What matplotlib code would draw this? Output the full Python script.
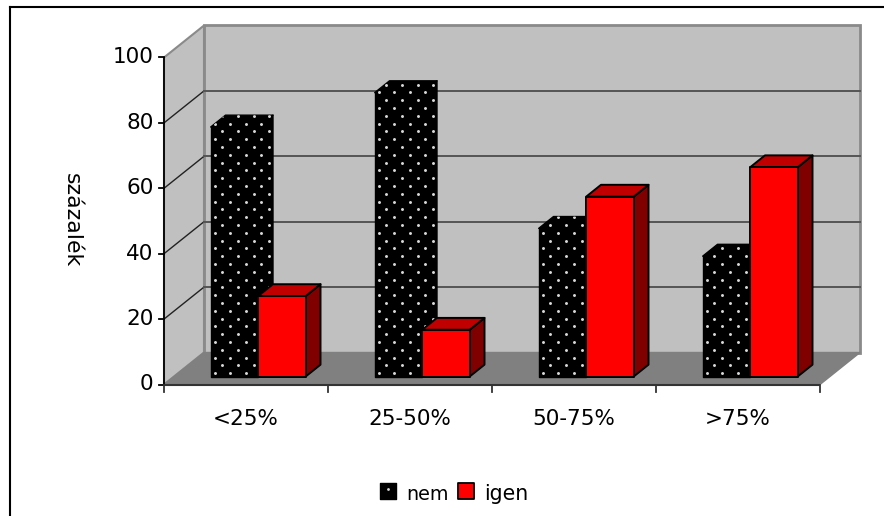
import matplotlib
matplotlib.use("Agg")
import matplotlib.pyplot as plt
from matplotlib.patches import Polygon

categories = ["<25%", "25-50%", "50-75%", ">75%"]
nem = [76.3, 86.8, 45.3, 36.8]
igen = [24.6, 14.3, 55.0, 64.0]
y_ticks = [0, 20, 40, 60, 80, 100]
y_label = "százalék"
legend_labels = ["nem", "igen"]

W, H = 884, 516
# pixel positions of the front plane of the chart box
X0, X1 = 164, 820
Y0, Y100 = 384.5, 57.5
px_per_cat = (X1 - X0) / len(categories)
px_per_val = (Y0 - Y100) / 100
# depth of the box in data units
DX = 40 / px_per_cat
DY = 32 / px_per_val
BAR_W = 47.5 / px_per_cat
BAR_GAP = 36.7 / px_per_cat
D0, D1 = 0.25, 0.62


def proj(x, y, d=0.0):
    return (x + DX * d, y + DY * d)


def fx(p):
    return (p - X0) / px_per_cat


def fy(p):
    return (Y0 - p) / px_per_val


def box(x, top, color, side, roof, ec, z, lw=1.4):
    x2 = x + BAR_W
    faces = [
        ([proj(x2, 0, D0), proj(x2, 0, D1), proj(x2, top, D1), proj(x2, top, D0)], side),
        ([proj(x, top, D0), proj(x2, top, D0), proj(x2, top, D1), proj(x, top, D1)], roof),
        ([proj(x, 0, D0), proj(x2, 0, D0), proj(x2, top, D0), proj(x, top, D0)], color),
    ]
    for pts, c in faces:
        ax.add_patch(Polygon(pts, closed=True, facecolor=c, edgecolor=ec, linewidth=lw,
                             joinstyle="round", zorder=z))


def dots(x, top, z):
    # staggered white dot texture for the black bars
    x2 = x + BAR_W
    outline = Polygon([proj(x, 0, D0), proj(x2, 0, D0), proj(x2, 0, D1), proj(x2, top, D1),
                       proj(x, top, D1), proj(x, top, D0)], closed=True,
                      facecolor="none", edgecolor="none")
    ax.add_patch(outline)
    sx = 15.6 / px_per_cat
    sy = 15.6 / px_per_val
    xs, ys = [], []
    x_base, y_base = proj(x, 0, D0)
    for r in range(int((top + DY) / (sy / 2)) + 2):
        off = 0.25 * sx if r % 2 == 0 else 0.75 * sx
        for c in range(6):
            xs.append(x_base + off + c * sx)
            ys.append(y_base + 1.0 + r * sy / 2)
    s = ax.scatter(xs, ys, s=4.5, color="#d8d8d8", linewidths=0, zorder=z)
    s.set_clip_path(outline)


fig = plt.figure(figsize=(W / 100, H / 100), dpi=100, facecolor="white")
ax = fig.add_axes([0, 0, 1, 1])
ax.set_xlim(-X0 / px_per_cat, (W - X0) / px_per_cat)
ax.set_ylim(-(H - Y0) / px_per_val, Y0 / px_per_val)
ax.axis("off")

n = len(categories)
GREY = "#808080"
# back wall, side wall, floor
ax.add_patch(Polygon([proj(0, 0, 1), proj(n, 0, 1), proj(n, 100, 1), proj(0, 100, 1)],
                     facecolor="#c0c0c0", edgecolor="#8a8a8a", linewidth=2, zorder=1))
ax.add_patch(Polygon([proj(0, 0), proj(0, 0, 1), proj(0, 100, 1), proj(0, 100)],
                     facecolor="#c0c0c0", edgecolor="#8a8a8a", linewidth=1.5, zorder=1))
ax.add_patch(Polygon([proj(0, 0), proj(n, 0), proj(n, 0, 1), proj(0, 0, 1)],
                     facecolor=GREY, edgecolor=GREY, linewidth=1, zorder=2))

# gridlines
for v in y_ticks[1:-1]:
    a, b, c = proj(0, v), proj(0, v, 1), proj(n, v, 1)
    ax.plot([a[0], b[0]], [a[1], b[1]], color="#222222", lw=1, zorder=2)
    ax.plot([b[0], c[0]], [b[1], c[1]], color="#555555", lw=1.4, zorder=2)

# bars, drawn left to right
for i in range(n):
    x_nem = i + BAR_GAP
    x_igen = x_nem + BAR_W
    box(x_nem, nem[i], "black", "black", "black", "black", 5 + i * 2, lw=1)
    dots(x_nem, nem[i], 5.5 + i * 2)
    box(x_igen, igen[i], "#ff0000", "#800000", "#c00000", "black", 6 + i * 2)

# axes
ax.plot([0, 0], [0, 100], color="black", lw=1.3, zorder=20, solid_capstyle="butt")
ax.plot([0, n], [0, 0], color="#333333", lw=1.5, zorder=20, solid_capstyle="butt")
tick_x = 5 / px_per_cat
tick_y = 7 / px_per_val
for v in y_ticks:
    ax.plot([-tick_x, 0], [v, v], color="black", lw=1.3, zorder=20)
    ax.text(-10.5 / px_per_cat, v, str(v), ha="right", va="center", fontsize=15.5, color="black")
for i in range(n + 1):
    ax.plot([i, i], [0, -tick_y], color="#333333", lw=1.3, zorder=20)
for i, c in enumerate(categories):
    ax.text(i + 0.5, fy(419), c, ha="center", va="center", fontsize=15.5)

ax.text(fx(72), fy(220), y_label, rotation=270, ha="center", va="center", fontsize=15.8)

# legend
ax.scatter([fx(388)], [fy(491)], marker="s", s=130, color="black", zorder=20)
ax.scatter([fx(388)], [fy(489)], s=4, color="#d8d8d8", linewidths=0, zorder=21)
ax.scatter([fx(466)], [fy(491)], marker="s", s=130, color="#ff0000", edgecolors="black",
           linewidths=1.3, zorder=20)
ax.text(fx(406), fy(494), legend_labels[0], ha="left", va="center", fontsize=13.8)
ax.text(fx(484), fy(494), legend_labels[1], ha="left", va="center", fontsize=14.8)

# outer frame, open on the right and at the bottom
ax.plot([fx(10), fx(10)], [fy(516), fy(7.5)], color="black", lw=1.5, zorder=30)
ax.plot([fx(10), fx(884)], [fy(7.5), fy(7.5)], color="black", lw=1.5, zorder=30)

fig.savefig("out.png", dpi=100, facecolor="white")
